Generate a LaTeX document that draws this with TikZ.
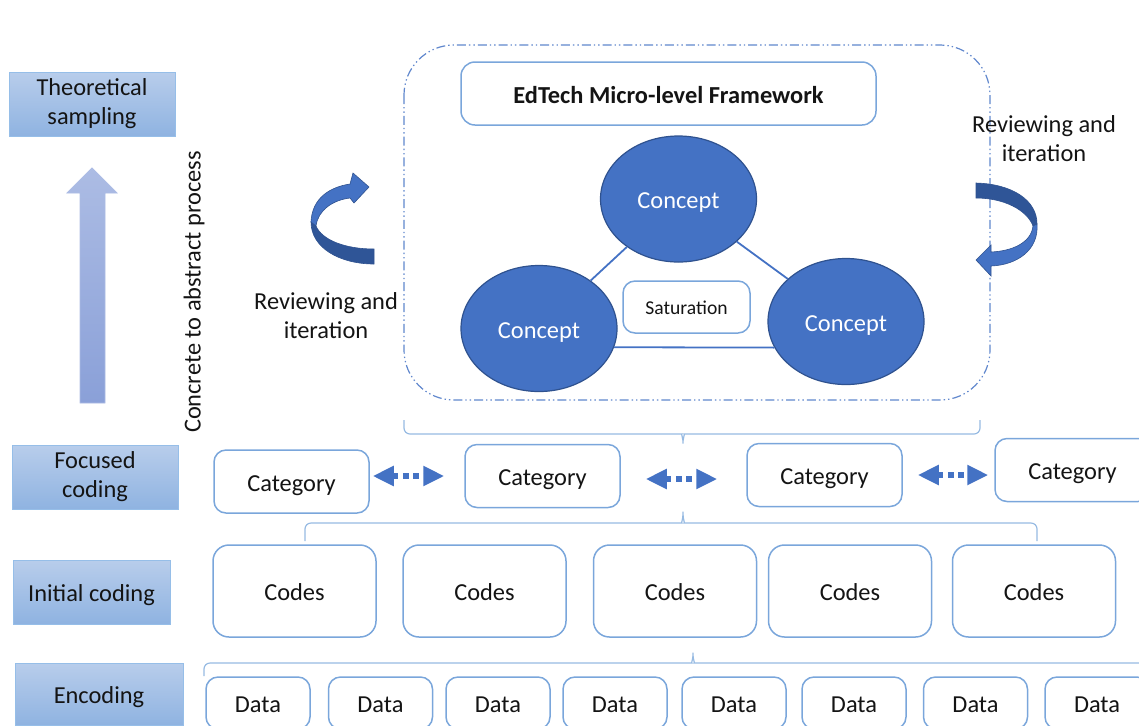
\documentclass[tikz,border=0pt]{standalone}
\usepackage{fontspec}
\setmainfont{Carlito}
\usetikzlibrary{arrows.meta,calc,shapes.geometric}
\definecolor{ink}{RGB}{20,20,20}
\definecolor{edge}{RGB}{122,166,219}
\definecolor{bracecol}{RGB}{150,186,226}
\definecolor{core}{RGB}{68,114,196}
\definecolor{coredark}{RGB}{47,82,143}
\definecolor{ribbon}{RGB}{47,85,151}
\definecolor{stagetop}{RGB}{184,205,235}
\definecolor{stagebot}{RGB}{143,179,225}
\definecolor{stageline}{RGB}{150,190,232}
\definecolor{uptop}{RGB}{172,188,228}
\definecolor{upbot}{RGB}{138,160,216}
\tikzset{
  every node/.style={font=\fontsize{12.2}{14.5}\selectfont, text=ink},
  % einzeilige Texte etwas tiefer setzen
  oneline/.style={text height=9.7pt, text depth=0pt},
  % Kästen
  box/.style={draw=edge, line width=0.75pt, rounded corners=6pt, fill=white, inner sep=0pt, oneline},
  stage/.style={draw=stageline, line width=0.5pt, top color=stagetop, bottom color=stagebot,
    minimum width=83pt, minimum height=32pt, align=center, inner sep=0pt},
  cat/.style={box, minimum width=77.5pt, minimum height=31.5pt},
  code/.style={box, rounded corners=8pt, minimum width=81.5pt, minimum height=46pt},
  datum/.style={box, minimum width=52pt, minimum height=26pt},
  concept/.style={ellipse, draw=coredark, line width=0.6pt, fill=core, text=white,
    minimum width=78pt, minimum height=63pt, inner sep=0pt, oneline},
  % Linien
  tie/.style={core, line width=0.9pt},
  dashbox/.style={core!85!white, line width=0.6pt, rounded corners=25pt,
    dash pattern=on 4.5pt off 1.5pt on 0.7pt off 1.5pt on 0.7pt off 1.5pt},
  dlink/.style={core, line width=3pt, dash pattern=on 3pt off 2.2pt,
    {Triangle[length=10.5pt,width=9.5pt]}-{Triangle[length=10.5pt,width=9.5pt]}},
  bracket/.style={bracecol, line width=0.6pt, rounded corners=3pt},
  turn/.style={draw=coredark, line width=0.3pt},
}
\begin{document}
\begin{tikzpicture}[x=0.5pt, y=-0.5pt]
  \useasboundingbox (0,0) rectangle (1139,725);
  % Stufen links
  \node[stage] (theo) at (92,104) {Theoretical\\sampling};
  \node[stage] (focus) at (95,477) {Focused\\coding};
  \node[stage, oneline, minimum width=78.5pt] (init) at (91.5,592) {Initial coding};
  \node[stage, oneline, minimum width=84pt, minimum height=31pt] (enc) at (99,694) {Encoding};
  % Pfeil nach oben
  \shade[top color=uptop, bottom color=upbot, draw=uptop, line width=0.4pt]
    (80,403) -- (80,193) -- (67,193) -- (92,168) -- (117,193) -- (105,193) -- (105,403) -- cycle;
  \node[rotate=90] (proc) at (194,292) {Concrete to abstract process};
  % Rahmen mit Konzepten
  \draw[dashbox] (404,45) rectangle (990,400);
  \node[box, rounded corners=7pt, minimum width=207.5pt, minimum height=31.5pt,
    font=\fontsize{12.2}{14.5}\selectfont\bfseries] (title) at (668.5,93.5) {EdTech Micro-level Framework};
  \node[concept] (ctop) at (678.5,199) {Concept};
  \node[concept] (cleft) at (539,328.5) {Concept};
  \node[concept] (cright) at (846,321.5) {Concept};
  \draw[tie] (ctop) -- (cleft);
  \draw[tie] (ctop) -- (cright);
  \draw[tie] (cleft.-14.7) -- (cright.200.5);
  \node[box, minimum width=63.5pt, minimum height=26pt, text height=7.2pt,
    font=\fontsize{9.8}{12}\selectfont] (sat) at (686.5,307) {Saturation};
  % gebogene Pfeile
  \fill[ribbon, turn] (311,222) .. controls (311,248) and (340,264) .. (374,264) -- (374,249)
    .. controls (345,249) and (322,240) .. (316,226) -- cycle;
  \fill[core, turn] (311,222) .. controls (312,198) and (330,187) .. (350,184) -- (353,173)
    -- (369,187) -- (354,203) -- (350,198) .. controls (333,200) and (318,210) .. (316,226) -- cycle;
  \node[align=center] (revL) at (326,316) {Reviewing and\\iteration};
  \fill[ribbon, turn] (976,183) .. controls (1012,184) and (1037,200) .. (1037,224) -- (1033,226)
    .. controls (1027,210) and (1004,198) .. (976,198) -- cycle;
  \fill[core, turn] (1037,224) .. controls (1039,250) and (1017,265) .. (991,266) -- (991,276)
    -- (976,260) -- (991,245) -- (991,252) .. controls (1012,251) and (1031,243) .. (1033,226) -- cycle;
  \node[align=center] (revR) at (1044,139) {Reviewing and\\iteration};
  % Kategorien
  \draw[bracket] (404,420) |- (676,434) .. controls (681,434) and (683,438) .. (683,447)
    .. controls (683,438) and (685,434) .. (690,434) -| (980,420);
  \node[cat] (cat1) at (291.5,481.5) {Category};
  \node[cat] (cat2) at (542.5,476) {Category};
  \node[cat] (cat3) at (824.5,475) {Category};
  \node[cat] (cat4) at (1072.5,470) {Category};
  \draw[dlink, shorten <=1.5pt, shorten >=10pt] (cat1.east |- cat2.west) -- (cat2.west);
  \draw[dlink, shorten <=12.5pt, shorten >=14.5pt] ([yshift=-1.5pt]cat2.east) -- ([yshift=-2pt]cat3.west);
  \draw[dlink, shorten <=7.5pt, shorten >=3pt] (cat3.east) -- (cat3.east -| cat4.west);
  % Codes
  \draw[bracket] (305,541) |- (676,523) .. controls (681,523) and (683,519) .. (683,508)
    .. controls (683,519) and (685,523) .. (690,523) -| (1037,541);
  \foreach \x [count=\i] in {294.5,484.5,675,850,1034}
    \node[code] (code\i) at (\x,591) {Codes};
  % Daten
  \draw[bracket] (204,676) |- (686,663) .. controls (691,663) and (693,659) .. (693,649)
    .. controls (693,659) and (695,663) .. (700,663) -| (1182,676);
  \foreach \x [count=\i] in {258,380.5,498,615,734,854,975.5,1097}
    \node[datum] (data\i) at (\x,703) {Data};
\end{tikzpicture}
\end{document}
